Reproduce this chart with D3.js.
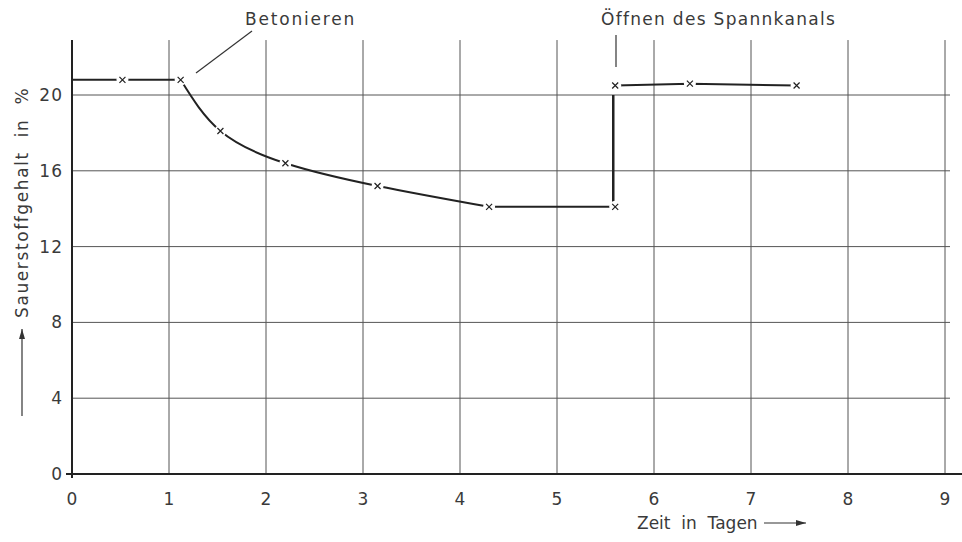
<!DOCTYPE html>
<html>
<head>
<meta charset="utf-8">
<script src="https://cdn.jsdelivr.net/npm/d3@7"></script>
<style>
  body { margin: 0; background: #fff; }
  text { font-family: "DejaVu Sans", sans-serif; fill: #3a3a3a; white-space: pre; }
</style>
</head>
<body>
<div id="canvas"></div>
<script>
// chart size
const width = 962;
const height = 542;

// data
const days = [0.52, 1.12, 1.53, 2.2, 3.15, 4.3, 5.6, 5.6, 6.37, 7.47];
const oxygen = [20.8, 20.8, 18.1, 16.4, 15.2, 14.1, 14.1, 20.5, 20.6, 20.5];
const xTicks = [0, 1, 2, 3, 4, 5, 6, 7, 8, 9];
const yTicks = [0, 4, 8, 12, 16, 20];

const svg = d3.select('#canvas')
  .append('svg')
  .attr('width', width)
  .attr('height', height);

const x = d3.scaleLinear().domain([0, 9]).range([72, 945]);
const y = d3.scaleLinear().domain([0, 20]).range([474, 95]);

// grid
svg.append('g').selectAll('line.v')
  .data(xTicks.slice(1))
  .enter().append('line')
    .attr('x1', d => x(d)).attr('x2', d => x(d))
    .attr('y1', y(22.9)).attr('y2', y(0))
    .attr('stroke', '#555').attr('stroke-width', 1);

svg.append('g').selectAll('line.h')
  .data(yTicks.slice(1))
  .enter().append('line')
    .attr('x1', x(0)).attr('x2', 950)
    .attr('y1', d => y(d)).attr('y2', d => y(d))
    .attr('stroke', '#555').attr('stroke-width', 1);

// axes
svg.append('line')
  .attr('x1', x(0)).attr('x2', x(0))
  .attr('y1', y(22.9)).attr('y2', y(0) + 4)
  .attr('stroke', '#222').attr('stroke-width', 2);
svg.append('line')
  .attr('x1', x(0) - 6).attr('x2', width)
  .attr('y1', y(0)).attr('y2', y(0))
  .attr('stroke', '#222').attr('stroke-width', 2);

// tick labels
svg.append('g').selectAll('text')
  .data(yTicks)
  .enter().append('text')
    .attr('x', 63).attr('y', d => y(d) + 6)
    .attr('text-anchor', 'end')
    .attr('font-size', 17)
    .attr('letter-spacing', 1)
    .text(d => d);

svg.append('g').selectAll('text')
  .data(xTicks)
  .enter().append('text')
    .attr('x', d => x(d)).attr('y', 505)
    .attr('text-anchor', 'middle')
    .attr('font-size', 17)
    .text(d => d);

// data line: flat start, fall after concreting, step when duct opened
const pts = days.map((d, i) => [d, oxygen[i]]);
const line = d3.line().x(d => x(d[0])).y(d => y(d[1]));
const curve = d3.line().x(d => x(d[0])).y(d => y(d[1])).curve(d3.curveNatural);

svg.append('path')
  .attr('d', line([[0, oxygen[0]], pts[0], pts[1]]))
  .attr('fill', 'none').attr('stroke', '#222').attr('stroke-width', 2);
svg.append('path')
  .attr('d', curve(pts.slice(1, 6)))
  .attr('fill', 'none').attr('stroke', '#222').attr('stroke-width', 2);
svg.append('path')
  .attr('d', line([pts[5], pts[6]]))
  .attr('fill', 'none').attr('stroke', '#222').attr('stroke-width', 2);
svg.append('path')
  .attr('d', line([[pts[6][0] - 0.02, pts[6][1]], [pts[6][0] - 0.02, 20]]))
  .attr('fill', 'none').attr('stroke', '#222').attr('stroke-width', 2.5);
svg.append('path')
  .attr('d', line(pts.slice(7)))
  .attr('fill', 'none').attr('stroke', '#222').attr('stroke-width', 2);

// markers with a small white gap
const marks = svg.append('g').selectAll('g')
  .data(pts)
  .enter().append('g')
    .attr('transform', d => `translate(${x(d[0])},${y(d[1])})`);
marks.append('circle').attr('r', 6).attr('fill', '#fff');
marks.append('path')
  .attr('d', 'M-3,-3L3,3M-3,3L3,-3')
  .attr('stroke', '#222').attr('stroke-width', 1.2);

// annotations
svg.append('line')
  .attr('x1', 196).attr('y1', 73).attr('x2', 252).attr('y2', 31)
  .attr('stroke', '#333').attr('stroke-width', 1.2);
svg.append('text')
  .attr('x', 245).attr('y', 25)
  .attr('font-size', 17)
  .attr('letter-spacing', 1.8)
  .text('Betonieren');

svg.append('line')
  .attr('x1', 616).attr('y1', 35).attr('x2', 616).attr('y2', 67)
  .attr('stroke', '#333').attr('stroke-width', 1.2);
svg.append('text')
  .attr('x', 601).attr('y', 25)
  .attr('font-size', 17)
  .attr('letter-spacing', 1.3)
  .text('Öffnen des Spannkanals');

// axis titles with arrows
svg.append('defs').append('marker')
  .attr('id', 'arr')
  .attr('viewBox', '0 0 10 6')
  .attr('refX', 10).attr('refY', 3)
  .attr('markerWidth', 10).attr('markerHeight', 6)
  .attr('markerUnits', 'userSpaceOnUse')
  .attr('orient', 'auto')
  .append('path').attr('d', 'M0,0L10,3L0,6Z').attr('fill', '#333');

svg.append('text')
  .attr('transform', 'translate(28,318) rotate(-90)')
  .attr('font-size', 17)
  .attr('letter-spacing', 1.6)
  .text('Sauerstoffgehalt  in  %');
svg.append('line')
  .attr('x1', 22).attr('y1', 416).attr('x2', 22).attr('y2', 329)
  .attr('stroke', '#333').attr('stroke-width', 1.2)
  .attr('marker-end', 'url(#arr)');

svg.append('text')
  .attr('x', 637).attr('y', 529)
  .attr('font-size', 17)
  .text('Zeit  in  Tagen');
svg.append('line')
  .attr('x1', 764).attr('y1', 523).attr('x2', 806).attr('y2', 523)
  .attr('stroke', '#333').attr('stroke-width', 1.2)
  .attr('marker-end', 'url(#arr)');
</script>
</body>
</html>
